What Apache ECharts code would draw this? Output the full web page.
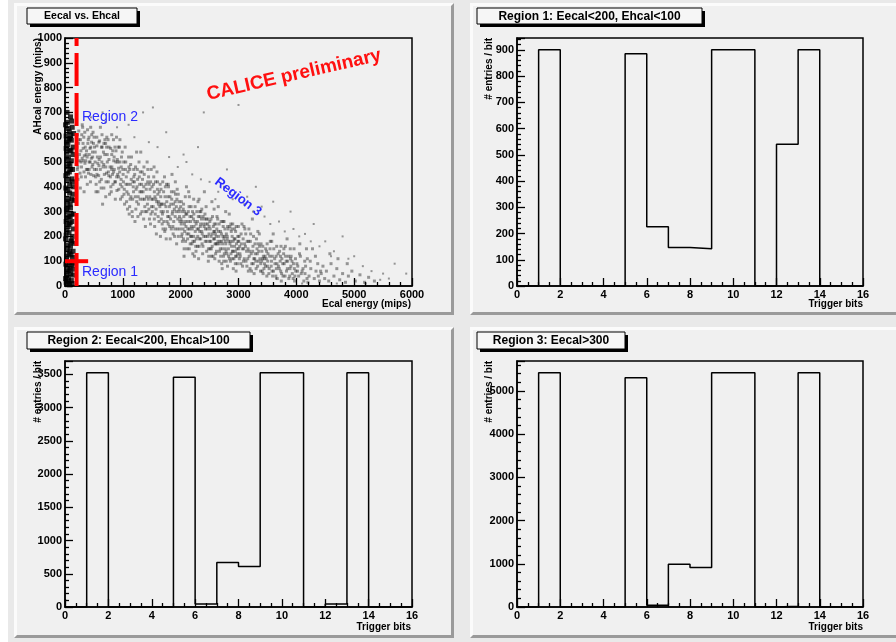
<!DOCTYPE html>
<html><head><meta charset="utf-8">
<script src="https://cdn.jsdelivr.net/npm/echarts@6/dist/echarts.min.js"></script>
<style>
html,body{margin:0;padding:0;background:#fff}
#wrap{position:relative;width:896px;height:642px;overflow:hidden;background:#fff}
#bg{position:absolute;left:8px;top:0;width:888px;height:642px;background:#e9e9e9}
.pan{position:absolute;box-sizing:border-box;background:#f0f0f0;border-top:3px solid #fbfbfb;border-left:3px solid #fbfbfb;border-right:3px solid #9a9a9a;border-bottom:3px solid #9a9a9a}
#c{position:absolute;left:0;top:0;width:896px;height:642px}
</style>
</head><body><div id="wrap">
<div id="bg"></div>
<div class="pan" style="left:14px;top:3px;width:440px;height:312px"></div>
<div class="pan" style="left:470px;top:3px;width:440px;height:312px"></div>
<div class="pan" style="left:14px;top:327px;width:440px;height:311px"></div>
<div class="pan" style="left:470px;top:327px;width:440px;height:311px"></div>
<div id="c"></div></div>
<script>
// ---------- data ----------
const triggerBits = [0,1,2,3,4,5,6,7,8,9,10,11,12,13,14,15]; // bin lower edges, width 1
const region1Counts = [0,900,0,0,0,885,226,147,142,900,900,0,540,900,0,0];
const region2Counts = [0,3524,0,0,0,3455,45,670,610,3524,3524,0,45,3524,0,0];
const region3Counts = [0,5420,0,0,0,5300,40,990,912,5420,5420,0,20,5420,0,0];

const scatterXTicks = [0,1000,2000,3000,4000,5000,6000];
const scatterYTicks = [0,100,200,300,400,500,600,700,800,900,1000];
const bitsTicks = [0,2,4,6,8,10,12,14,16];
const region1YTicks = [0,100,200,300,400,500,600,700,800,900];
const region2YTicks = [0,500,1000,1500,2000,2500,3000,3500];
const region3YTicks = [0,1000,2000,3000,4000,5000];
const histYMax = [945,3700,5690];

const cutVertical = [[200,0],[200,1000]];     // Eecal = 200
const cutHorizontal = [[0,100],[400,100]];    // Ehcal = 100

// Ecal vs AHcal events (Region 1 / Region 2 column)
const columnPoints = [
[20,15],[60,35],[110,22],[35,58],[90,71],[140,44],[15,88],[75,95],[125,10],[50,80],
[30,120],[85,140],[130,115],[55,165],[100,182],[20,205],[145,230],[70,248],[40,275],[115,290],
[25,310],[90,330],[60,352],[135,370],[15,395],[80,410],[120,432],[45,455],[100,470],[65,495],
[30,512],[140,530],[85,548],[50,570],[110,588],[20,605],[75,622],[125,640],[40,660],[95,682],
[60,20],[100,50],[30,42],[150,68],[10,30],[120,85],[45,10],[80,5],[135,92],[65,62],
[105,125],[40,150],[150,172],[10,190],[70,215],[120,260],[35,300],[95,315],[155,345],[50,385],
[130,420],[15,445],[85,485],[60,520],[145,560],[25,580],[100,610],[55,635],[115,665],[35,700],
[70,130],[125,200],[20,260],[90,280],[45,340],[140,400],[75,460],[30,540],[110,505],[65,590],
[150,615],[10,650],[85,595],[40,480],[120,350],[55,240],[95,160],[25,105],[140,140],[60,430],
[80,375],[130,470],[20,555],[105,545],[50,320],[145,290],[35,225],[90,255],[115,180],[65,280]
];
// Region 3 band, first reading
const bandPoints = [
[210,520],[240,590],[260,455],[290,610],[310,505],[330,380],[350,560],[370,470],[390,630],[420,530],
[440,420],[460,580],[480,490],[225,430],[275,545],[305,640],[345,495],[385,410],[415,600],[455,515],
[495,445],[235,575],[285,480],[325,600],[365,530],[405,455],[445,560],[485,620],[215,610],[265,395],
[315,555],[355,440],[395,575],[435,500],[475,540],
[510,560],[530,440],[550,600],[570,380],[590,510],[610,470],[630,560],[650,330],[670,490],[690,590],
[710,420],[730,530],[750,460],[770,370],[790,555],[810,480],[830,410],[850,520],[870,350],[890,600],
[910,450],[930,390],[950,500],[970,430],[990,540],[520,500],[560,520],[600,420],[640,610],[680,450],
[720,560],[760,510],[800,380],[840,460],[880,500],[920,560],[960,350],[1000,470],[545,470],[585,580],
[625,395],[665,540],[705,480],[745,590],[785,440],[825,545],[865,420],[905,510],[945,460],[985,400],
[1010,420],[1030,330],[1050,500],[1070,380],[1090,460],[1110,290],[1130,410],[1150,520],[1170,350],[1190,440],
[1210,260],[1230,390],[1250,470],[1270,330],[1290,410],[1310,540],[1330,300],[1350,380],[1370,450],[1390,240],
[1410,360],[1430,420],[1450,310],[1470,390],[1490,470],[1020,370],[1060,440],[1100,520],[1140,360],[1180,400],
[1220,480],[1260,280],[1300,350],[1340,430],[1380,320],[1420,500],[1460,270],[1500,350],[1040,560],[1080,310],
[1120,470],[1160,300],[1200,420],[1240,340],[1280,500],[1320,380],[1360,270],[1400,410],[1440,350],[1480,420],
[1510,300],[1530,410],[1550,240],[1570,350],[1590,460],[1610,280],[1630,380],[1650,200],[1670,330],[1690,420],
[1710,260],[1730,360],[1750,190],[1770,300],[1790,400],[1810,240],[1830,330],[1850,450],[1870,210],[1890,310],
[1910,370],[1930,170],[1950,270],[1970,340],[1990,230],[1520,350],[1560,290],[1600,420],[1640,320],[1680,250],
[1720,440],[1760,340],[1800,280],[1840,380],[1880,260],[1920,300],[1960,200],[2000,320],[1540,480],[1580,210],
[1620,340],[1660,390],[1700,300],[1740,230],[1780,360],[1820,190],[1860,300],[1900,230],[1940,390],[1980,280],
[1545,380],[1665,270],[1785,250],[1905,340],[1755,410],
[2010,250],[2030,180],[2050,330],[2070,220],[2090,290],[2110,150],[2130,260],[2150,360],[2170,200],[2190,280],
[2210,130],[2230,240],[2250,320],[2270,190],[2290,260],[2310,110],[2330,220],[2350,300],[2370,170],[2390,250],
[2410,380],[2430,200],[2450,140],[2470,270],[2490,210],[2020,300],[2060,150],[2100,400],[2140,210],[2180,320],
[2220,270],[2260,160],[2300,340],[2340,240],[2380,130],[2420,290],[2460,230],[2500,180],[2040,230],[2080,360],
[2120,190],[2160,280],[2200,230],[2240,180],[2280,300],[2320,160],[2360,270],[2400,200],[2440,320],[2480,150],
[2015,200],[2085,260],[2155,230],[2225,350],[2295,200],[2365,220],[2435,250],[2055,280],[2195,170],[2335,280],
[2510,230],[2530,150],[2550,280],[2570,190],[2590,110],[2610,250],[2630,170],[2650,320],[2670,140],[2690,220],
[2710,90],[2730,200],[2750,260],[2770,150],[2790,210],[2810,80],[2830,180],[2850,240],[2870,130],[2890,200],
[2910,70],[2930,160],[2950,220],[2970,120],[2990,180],[2520,180],[2560,120],[2600,210],[2640,270],[2680,180],
[2720,150],[2760,200],[2800,130],[2840,290],[2880,160],[2920,110],[2960,240],[3000,150],[2540,340],[2580,250],
[2620,140],[2660,200],[2700,260],[2740,120],[2780,170],[2820,230],[2860,100],[2900,250],[2940,190],[2980,90],
[2525,270],[2595,170],[2665,100],[2735,240],[2805,190],[2875,220],[2945,140],[2615,200],[2755,130],[2895,140],
[3010,200],[3030,120],[3050,170],[3070,80],[3090,150],[3110,230],[3130,100],[3150,180],[3170,60],[3190,140],
[3210,210],[3230,90],[3250,160],[3270,50],[3290,130],[3310,190],[3330,80],[3350,140],[3370,110],[3390,170],
[3410,60],[3430,120],[3450,90],[3470,150],[3490,40],[3020,160],[3060,250],[3100,110],[3140,140],[3180,230],
[3220,130],[3260,200],[3300,100],[3340,170],[3380,60],[3420,160],[3460,120],[3500,80],[3040,90],[3080,190],
[3120,160],[3160,110],[3200,70],[3240,270],[3280,110],[3320,150],[3360,210],[3400,100],[3440,70],[3480,110],
[3510,130],[3530,70],[3550,180],[3570,100],[3590,40],[3610,150],[3630,90],[3650,120],[3670,30],[3690,80],
[3710,140],[3730,60],[3750,110],[3770,40],[3790,90],[3810,160],[3830,60],[3850,100],[3870,30],[3890,70],
[3910,120],[3930,50],[3950,90],[3970,20],[3990,60],[3540,120],[3600,210],[3660,160],[3720,100],[3780,130],
[3840,190],[3900,110],[3960,150],[3580,60],[3740,20],
[4010,90],[4040,40],[4070,120],[4100,60],[4130,20],[4160,80],[4190,110],[4220,40],[4250,70],[4280,150],
[4310,30],[4340,60],[4370,90],[4400,20],[4430,50],[4460,80],[4490,30],[4060,170],[4150,50],[4240,100],
[4330,120],[4420,60],[4020,60],[4200,15],[4380,40],
[4520,60],[4560,20],[4600,90],[4650,40],[4700,70],[4750,25],[4800,50],[4850,15],[4900,40],[4960,60],
[5020,20],[5100,45],[5180,15],[5250,35],[4580,130],[4720,110],[4880,90],[5350,20]
];
// Region 3 band, second (denser core) reading
const bandPoints2 = [
[205,560],[222,480],[238,625],[252,530],[268,590],[282,440],[297,515],[312,575],[328,460],[342,620],
[357,505],[372,545],[388,470],[402,590],[418,500],[432,555],[448,450],[462,610],[478,520],[492,575],
[508,470],[522,540],[538,410],[552,565],[568,495],[582,445],[598,585],[612,520],[628,430],[642,560],
[658,480],[672,395],[688,530],[702,575],[718,455],[732,500],[748,420],[762,560],[778,480],[792,400],
[808,530],[822,450],[838,590],[852,470],[868,420],[882,545],[898,385],[912,500],[928,440],[942,560],
[958,410],[972,480],[988,360],[247,505],[333,525],[417,470],[503,600],[587,485],[673,575],[757,445],
[843,505],[927,475],[213,470],[298,650],[383,520],[468,480],[553,450],[637,500],[723,600],[807,470],
[893,440],[977,520],[444,640],[612,640],[808,610],[536,380],[704,360],[864,560],[950,590],[276,500],
[1005,450],[1025,390],[1045,470],[1065,340],[1085,410],[1105,480],[1125,350],[1145,430],[1165,280],[1185,380],
[1205,450],[1225,310],[1245,400],[1265,360],[1285,440],[1305,290],[1325,410],[1345,350],[1365,480],[1385,300],
[1405,390],[1425,330],[1445,440],[1465,360],[1485,290],[1505,400],[1525,320],[1545,270],[1565,420],[1585,340],
[1605,370],[1625,260],[1645,410],[1665,330],[1685,290],[1705,380],[1725,220],[1745,320],[1765,260],[1785,410],
[1805,320],[1825,270],[1845,350],[1865,240],[1885,380],[1905,280],[1925,320],[1945,230],[1965,300],[1985,260],
[1015,500],[1055,410],[1095,370],[1135,490],[1175,420],[1215,360],[1255,430],[1295,380],[1335,460],[1375,350],
[1415,300],[1455,410],[1495,320],[1535,440],[1575,310],[1615,330],[1655,360],[1695,230],[1735,400],[1775,280],
[1815,360],[1855,290],[1895,200],[1935,350],[1975,310],[1118,320],[1238,540],[1362,400],[1478,250],[1598,390],
[1718,330],[1838,230],[1958,370],[1188,470],[1432,470],[1662,300],[1876,330],[1555,360],[1302,460],[1908,420],
[2005,270],[2025,210],[2045,310],[2065,250],[2085,180],[2105,290],[2125,230],[2145,320],[2165,170],[2185,240],
[2205,300],[2225,200],[2245,260],[2265,140],[2285,230],[2305,280],[2325,190],[2345,250],[2365,310],[2385,160],
[2405,240],[2425,180],[2445,270],[2465,200],[2485,120],[2505,260],[2525,200],[2545,160],[2565,240],[2585,190],
[2605,130],[2625,230],[2645,180],[2665,250],[2685,150],[2705,210],[2725,170],[2745,100],[2765,230],[2785,140],
[2805,200],[2825,150],[2845,110],[2865,180],[2885,230],[2905,140],[2925,190],[2945,90],[2965,170],[2985,130],
[2012,340],[2048,190],[2092,240],[2132,300],[2172,260],[2212,180],[2252,220],[2292,160],[2332,300],[2372,210],
[2412,270],[2452,180],[2492,240],[2532,120],[2572,220],[2612,170],[2652,220],[2692,120],[2732,260],[2772,180],
[2812,240],[2852,170],[2892,110],[2932,230],[2972,150],[2028,260],[2108,210],[2188,200],[2268,250],[2348,190],
[2428,230],[2508,150],[2588,220],[2668,170],[2748,190],[2828,120],[2908,180],[2988,200],[2068,300],[2148,150],
[2228,290],[2308,230],[2388,280],[2468,250],[2548,210],[2628,280],[2708,180],[2788,100],[2868,250],[2948,120],
[2138,380],[2318,350],[2578,310],[2778,300],[2998,240],[2238,120],[2478,100],[2718,70],[2958,60],[2058,120],
[3005,180],[3025,130],[3045,210],[3065,150],[3085,100],[3105,170],[3125,210],[3145,80],[3165,150],[3185,120],
[3205,180],[3225,60],[3245,140],[3265,110],[3285,170],[3305,70],[3325,130],[3345,100],[3365,160],[3385,90],
[3405,140],[3425,50],[3445,110],[3465,80],[3485,140],[3505,100],[3525,50],[3545,150],[3565,80],[3585,120],
[3605,60],[3625,110],[3645,40],[3665,90],[3685,130],[3705,70],[3725,120],[3745,50],[3765,90],[3785,150],
[3805,40],[3825,100],[3845,70],[3865,120],[3885,40],[3905,80],[3925,100],[3945,30],[3965,70],[3985,110],
[3015,110],[3095,240],[3175,180],[3255,90],[3335,220],[3415,110],[3495,170],[3575,180],[3655,70],[3735,160],
[3815,120],[3895,150],[3975,40],[4025,80],[4085,50],[4145,100],[4185,30],[4055,130],[4115,70],[4175,150]
];
const outlierPoints = [
[1350,700],[1750,620],[2300,560],[2800,470],[3300,400],[3900,300],[4300,250],[4800,200],[5600,30],[5900,50],
[5700,90],[1100,650],[650,700],[2100,500],[3600,340],[5000,120],[4500,180],[1520,720],[3000,730],[2400,700],
[1800,520],[2200,450],[2500,420],[2650,380],[2900,350],[3100,330],[3250,300],[3450,280],[3700,260],[3950,230],
[4150,210],[4400,160],[4650,140],[4900,110],[5150,80],[5300,60],[5500,50],[1600,560],[1950,480],[2350,430],
[2750,400],[3150,360],[3550,250],[4050,200],[4600,120],[2050,530],[2600,350],[3400,320],[3800,220],[4250,180],
[1200,600],[900,640],[700,660],[450,680],[1450,580],[3650,30],[4100,10],[4700,10],[5200,10],[5450,25]
];

// ---------- helpers ----------
function histOutline(counts){
  const pts = [[0,0]];
  counts.forEach((v,i)=>{ pts.push([triggerBits[i], v]); pts.push([triggerBits[i]+1, v]); });
  pts.push([triggerBits[triggerBits.length-1]+1, 0]);
  return pts;
}
const FONT = '"Liberation Sans", Arial, Helvetica, sans-serif';
const labelStyle = {color:'#000', fontFamily:FONT, fontWeight:'bold', fontSize:11, formatter:v=>String(v)};

function xAxisDef(gi, ticks, minorSplit){
  return {type:'value', gridIndex:gi, min:ticks[0], max:ticks[ticks.length-1], interval:ticks[1]-ticks[0],
    axisLine:{show:true, onZero:false, lineStyle:{color:'#000', width:1.5}},
    axisTick:{show:true, inside:true, length:8, lineStyle:{color:'#000', width:1.3}},
    minorTick:{show:true, splitNumber:minorSplit, length:4, lineStyle:{color:'#000', width:1.3}},
    splitLine:{show:false}, minorSplitLine:{show:false},
    axisLabel:Object.assign({margin:3}, labelStyle)};
}
function yAxisDef(gi, ticks, max, showMax){
  return {type:'value', gridIndex:gi, min:ticks[0], max:max, interval:ticks[1]-ticks[0],
    axisLine:{show:true, onZero:false, lineStyle:{color:'#000', width:1.5}},
    axisTick:{show:true, inside:true, length:8, lineStyle:{color:'#000', width:1.3}},
    minorTick:{show:true, splitNumber:5, length:4, lineStyle:{color:'#000', width:1.3}},
    splitLine:{show:false}, minorSplitLine:{show:false},
    axisLabel:Object.assign({margin:3, showMaxLabel:showMax}, labelStyle)};
}

// ---------- text graphics ----------
function titleBox(x,y,w,h,text,fs){
  return [
    {type:'rect', z:50, shape:{x:x+3,y:y+3,width:w,height:h}, style:{fill:'#000'}},
    {type:'rect', z:51, shape:{x:x,y:y,width:w,height:h}, style:{fill:'#f6f6f6', stroke:'#000', lineWidth:1}},
    {type:'text', z:52, x:x+w/2, y:y+h/2+0.5, style:{text:text, fill:'#000', font:'bold '+fs+'px '+FONT, textAlign:'center', textVerticalAlign:'middle'}}
  ];
}
function txt(x,y,t,opt){
  return Object.assign({type:'text', z:60, x:x, y:y, style:Object.assign({text:t, fill:'#000', font:'bold 10px '+FONT, textAlign:'right', textVerticalAlign:'top'}, opt.style||{})}, opt.el||{});
}
const graphics = [].concat(
  titleBox(27,8,110,16,'Eecal vs. Ehcal',10.5),
  titleBox(477,8,225,16,'Region 1: Eecal<200, Ehcal<100',12),
  titleBox(27,332,223,17,'Region 2: Eecal<200, Ehcal>100',12),
  titleBox(477,332,148,17,'Region 3: Eecal>300',12),
  [
    txt(411,299,'Ecal energy (mips)',{}),
    txt(863,299,'Trigger bits',{}),
    txt(411,622,'Trigger bits',{}),
    txt(863,622,'Trigger bits',{}),
    txt(38,38,'AHcal energy (mips)',{style:{textVerticalAlign:'middle'}, el:{rotation:Math.PI/2}}),
    txt(489,38,'# entries / bit',{style:{textVerticalAlign:'middle'}, el:{rotation:Math.PI/2}}),
    txt(38,361,'# entries / bit',{style:{textVerticalAlign:'middle'}, el:{rotation:Math.PI/2}}),
    txt(489,361,'# entries / bit',{style:{textVerticalAlign:'middle'}, el:{rotation:Math.PI/2}}),
    {type:'text', z:70, x:294, y:75, rotation:0.225, style:{text:'CALICE preliminary', fill:'#ff1010', font:'bold 19px '+FONT, textAlign:'center', textVerticalAlign:'middle'}},
    {type:'text', z:70, x:82, y:117, style:{text:'Region 2', fill:'#2b2bff', font:'14px '+FONT, textAlign:'left', textVerticalAlign:'middle'}},
    {type:'text', z:70, x:82, y:272, style:{text:'Region 1', fill:'#2b2bff', font:'14px '+FONT, textAlign:'left', textVerticalAlign:'middle'}},
    {type:'text', z:70, x:238, y:197, rotation:-0.65, style:{text:'Region 3', fill:'#2b2bff', font:'bold 13px '+FONT, textAlign:'center', textVerticalAlign:'middle'}}
  ]
);

// ---------- chart ----------
const chart = echarts.init(document.getElementById('c'), null, {renderer:'canvas'});
const gridBase = {show:true, backgroundColor:'transparent', borderColor:'#000', borderWidth:1.5, containLabel:false};
const dotStyle = {color:'rgba(10,10,10,0.5)'};
chart.setOption({
  animation:false,
  backgroundColor:'transparent',
  graphic:{elements:graphics},
  grid:[
    Object.assign({left:65, top:38, width:347, height:248}, gridBase),
    Object.assign({left:517, top:38, width:346, height:248}, gridBase),
    Object.assign({left:65, top:361, width:347, height:246}, gridBase),
    Object.assign({left:517, top:361, width:346, height:246}, gridBase)
  ],
  xAxis:[
    xAxisDef(0, scatterXTicks, 5),
    xAxisDef(1, bitsTicks, 4),
    xAxisDef(2, bitsTicks, 4),
    xAxisDef(3, bitsTicks, 4)
  ],
  yAxis:[
    yAxisDef(0, scatterYTicks, scatterYTicks[scatterYTicks.length-1], true),
    yAxisDef(1, region1YTicks, histYMax[0], false),
    yAxisDef(2, region2YTicks, histYMax[1], false),
    yAxisDef(3, region3YTicks, histYMax[2], false)
  ],
  series:[
    {type:'scatter', xAxisIndex:0, yAxisIndex:0, data:bandPoints, symbol:'rect', symbolSize:3, itemStyle:dotStyle, silent:true},
    {type:'scatter', xAxisIndex:0, yAxisIndex:0, data:bandPoints2, symbol:'rect', symbolSize:3, itemStyle:dotStyle, silent:true},
    {type:'scatter', xAxisIndex:0, yAxisIndex:0, data:outlierPoints, symbol:'rect', symbolSize:2, itemStyle:dotStyle, silent:true},
    {type:'scatter', xAxisIndex:0, yAxisIndex:0, data:columnPoints, symbol:'rect', symbolSize:5, itemStyle:{color:'#000'}, silent:true},
    {type:'line', xAxisIndex:0, yAxisIndex:0, data:cutVertical, symbol:'none', lineStyle:{color:'#ff0000', width:4, type:[33,7]}, z:5},
    {type:'line', xAxisIndex:0, yAxisIndex:0, data:cutHorizontal, symbol:'none', lineStyle:{color:'#ff0000', width:4}, z:5},
    {type:'line', xAxisIndex:1, yAxisIndex:1, data:histOutline(region1Counts), symbol:'none', lineStyle:{color:'#000', width:1.5}},
    {type:'line', xAxisIndex:2, yAxisIndex:2, data:histOutline(region2Counts), symbol:'none', lineStyle:{color:'#000', width:1.5}},
    {type:'line', xAxisIndex:3, yAxisIndex:3, data:histOutline(region3Counts), symbol:'none', lineStyle:{color:'#000', width:1.5}}
  ]
});
</script></body></html>
